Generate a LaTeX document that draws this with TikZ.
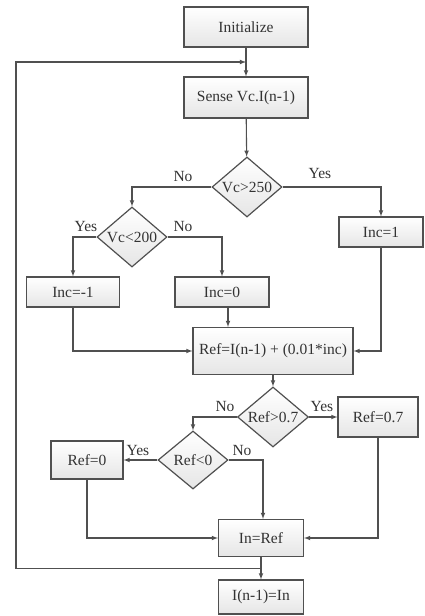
\documentclass[tikz,border=0pt]{standalone}
\usepackage{fontspec}
\setmainfont{Liberation Serif}
\usetikzlibrary{shapes.geometric,calc}
\definecolor{linegray}{HTML}{505050}
\tikzset{
  >=latex,
  every node/.style={font=\fontsize{15.5}{17}\selectfont, text=black!80},
  procbox/.style={draw=linegray, line width=1.2pt, rectangle, top color=white, bottom color=gray!20, inner sep=0pt},
  decbox/.style={draw=linegray, line width=1.2pt, diamond, top color=white, bottom color=gray!20, inner sep=0pt},
  flow/.style={draw=linegray, line width=1.1pt}
}
\begin{document}
\begin{tikzpicture}[x=1pt, y=-1pt]
  \useasboundingbox (0,0) rectangle (424,616);

  % --- blocchi ---
  \node[procbox, minimum width=124pt, minimum height=40pt] (init)  at (246,27)  {Initialize};
  \node[procbox, minimum width=124pt, minimum height=41pt] (sense) at (246,97.5) {Sense Vc.I(n-1)};
  \node[decbox, minimum width=70pt, minimum height=60pt, label=center:{Vc>250}] (vcmax) at (247,187) {};
  \node[decbox, minimum width=70pt, minimum height=60pt, label=center:{Vc<200}] (vcmin) at (132,237) {};
  \node[procbox, minimum width=84pt, minimum height=30pt] (incp) at (381,232) {Inc=1};
  \node[procbox, minimum width=93pt, minimum height=30pt] (incm) at (73,292)  {Inc=-1};
  \node[procbox, minimum width=94pt, minimum height=30pt] (inco) at (222,292) {Inc=0};
  \node[procbox, minimum width=160pt, minimum height=47pt] (ref) at (273,351) {Ref=I(n-1) + (0.01*inc)};
  \node[decbox, minimum width=71pt, minimum height=60pt, label=center:{Ref>0.7}] (refmax) at (273,417) {};
  \node[procbox, minimum width=80pt, minimum height=40pt] (refhi) at (378,417) {Ref=0.7};
  \node[decbox, minimum width=70pt, minimum height=58pt, label=center:{Ref<0}] (refmin) at (193,460) {};
  \node[procbox, minimum width=72pt, minimum height=38pt] (reflo) at (87,460) {Ref=0};
  \node[procbox, minimum width=85pt, minimum height=37pt] (inref) at (261,538) {In=Ref};
  \node[procbox, minimum width=85pt, minimum height=34pt] (last) at (261,597) {I(n-1)=In};

  % --- etichette ---
  \node (no1)  at (183,176) {No};
  \node (yes1) at (320,173) {Yes};
  \node (yes2) at (86,226)  {Yes};
  \node (no2)  at (183,226) {No};
  \node (no3)  at (225,406) {No};
  \node (yes3) at (322,406) {Yes};
  \node (yes4) at (138,450) {Yes};
  \node (no4)  at (242,450) {No};

  % --- frecce ---
  \draw[flow, ->] (init) -- (sense);
  \draw[flow, ->] (sense) -- (vcmax);
  \draw[flow, ->] (vcmax.west) -| (vcmin.north);
  \draw[flow, ->] (vcmax.east) -| (incp.north);
  \draw[flow, ->] (vcmin.west) -| (incm.north);
  \draw[flow, ->] (vcmin.east) -| (inco.north);
  \draw[flow, ->] (incm.south) |- (ref.west);
  \draw[flow, ->] ([xshift=6pt]inco.south) -- ([xshift=6pt]inco.south |- ref.north);
  \draw[flow, ->] (incp.south) |- (ref.east);
  \draw[flow, ->] (ref) -- (refmax);
  \draw[flow, ->] (refmax.west) -| (refmin.north);
  \draw[flow, ->] (refmax.east) -- (refhi.west);
  \draw[flow, ->] (refmin.west) -- (reflo.east);
  \draw[flow, ->] (refmin.east) -| ([xshift=2pt]inref.north);
  \draw[flow, ->] (reflo.south) |- (inref.west);
  \draw[flow, ->] (refhi.south) |- (inref.east);
  \draw[flow, ->] (inref) -- (last);

  % --- ritorno ---
  \coordinate (back) at ($(inref.south)!0.5!(last.north)$);
  \coordinate (side) at (16,0);
  \coordinate (join) at ($(init.south)!0.5!(sense.north)$);
  \draw[flow, ->] (back) -- (back -| side) |- (join);
\end{tikzpicture}
\end{document}
